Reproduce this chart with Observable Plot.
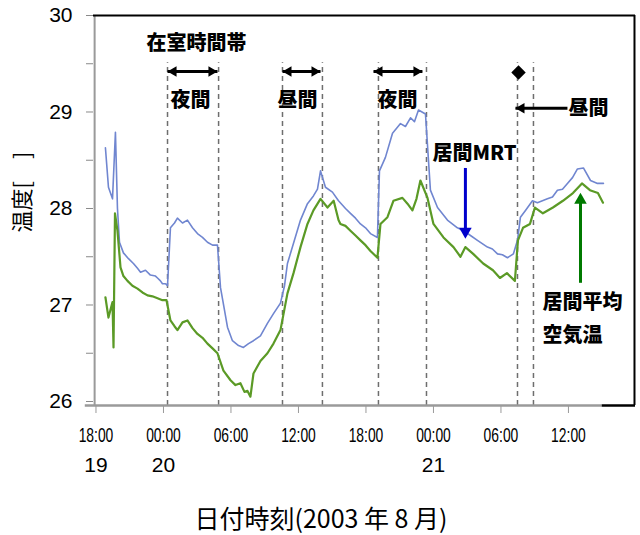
<!DOCTYPE html>
<html><head><meta charset="utf-8">
<script src="https://cdn.jsdelivr.net/npm/d3@7"></script>
<script src="https://cdn.jsdelivr.net/npm/@observablehq/plot@0.6"></script>
<style>body{margin:0;background:#fff}#chart{width:640px;height:535px}</style>
</head><body><div id="chart"></div>
<script>
// hours since 2003-08-19 18:00
const blueHours = [0.84,1.11,1.47,1.73,1.91,2.09,2.44,2.89,3.33,3.69,3.96,4.4,4.84,5.29,5.47,5.73,5.91,6.18,6.36,6.62,6.98,7.24,7.69,8.13,8.58,9.02,9.47,9.91,10.36,10.8,11.07,11.42,11.69,12.13,12.67,13.11,13.56,14.0,14.62,15.24,15.78,16.4,16.76,17.02,17.56,18.18,18.8,19.33,19.69,19.96,20.4,21.02,21.56,22.18,22.62,23.07,23.51,23.96,24.4,25.02,25.2,25.73,26.36,27.07,27.51,27.96,28.31,28.67,29.29,29.73,30.36,31.24,32.13,32.67,33.29,33.91,34.8,35.24,35.69,36.13,36.58,37.11,37.47,37.73,38.18,38.8,39.24,40.13,40.58,41.02,41.47,41.91,42.36,42.8,43.33,43.96,44.58,45.11];
const blueTemps = [28.63,28.22,28.10,28.79,28.00,27.65,27.54,27.48,27.43,27.38,27.34,27.36,27.31,27.30,27.28,27.25,27.22,27.22,27.20,27.80,27.85,27.90,27.85,27.88,27.80,27.74,27.70,27.65,27.62,27.62,27.18,26.95,26.77,26.63,26.58,26.56,26.60,26.63,26.68,26.81,26.91,27.02,27.20,27.43,27.64,27.88,28.05,28.13,28.20,28.39,28.22,28.17,28.08,28.00,27.95,27.90,27.84,27.80,27.74,27.70,28.39,28.53,28.78,28.88,28.85,28.94,28.90,29.02,28.98,28.19,28.01,27.88,27.80,27.77,27.72,27.67,27.60,27.58,27.53,27.52,27.49,27.53,27.67,27.91,27.98,28.08,28.06,28.10,28.12,28.19,28.20,28.26,28.32,28.41,28.42,28.29,28.26,28.26];
const greenHours = [0.84,1.11,1.29,1.47,1.56,1.69,1.91,2.18,2.44,2.8,3.24,3.69,4.13,4.58,5.02,5.47,5.91,6.27,6.62,6.98,7.24,7.69,8.13,8.58,9.02,9.47,9.91,10.36,10.8,11.33,11.96,12.4,12.84,13.2,13.47,13.73,14.0,14.62,15.24,15.78,16.4,17.02,17.56,18.18,18.8,19.33,19.96,20.58,21.13,21.56,21.73,22.18,22.62,23.07,23.51,23.96,24.4,25.02,25.29,25.91,26.44,27.24,27.69,28.13,28.49,28.84,29.47,30.0,30.89,31.78,32.4,32.84,33.53,34.42,35.29,35.91,36.53,37.24,37.51,37.96,38.58,39.02,39.73,40.62,41.51,42.4,43.2,43.91,44.62,45.07];
const greenTemps = [27.08,26.87,26.95,27.03,26.56,27.95,27.77,27.39,27.30,27.25,27.20,27.17,27.13,27.10,27.09,27.07,27.05,27.05,26.84,26.78,26.74,26.82,26.84,26.76,26.70,26.66,26.60,26.55,26.50,26.32,26.22,26.17,26.19,26.10,26.11,26.05,26.29,26.42,26.50,26.60,26.74,27.12,27.33,27.60,27.84,27.98,28.10,28.01,28.08,27.88,27.84,27.82,27.77,27.72,27.67,27.62,27.56,27.49,27.84,27.91,28.08,28.11,28.05,27.98,28.10,28.29,28.11,27.84,27.70,27.60,27.50,27.60,27.53,27.43,27.36,27.28,27.33,27.25,27.67,27.80,27.84,28.01,27.95,28.01,28.08,28.16,28.26,28.19,28.16,28.06];
const dashHours = [6.36,10.9,16.58,20.13,25.11,29.38,37.47,38.89];
const tickHours = [0,6,12,18,24,30,36,42];
const tickLabels = ["18:00","00:00","06:00","12:00","18:00","00:00","06:00","12:00"];
const dateHours = [0,6,30];
const dateLabels = ["19","20","21"];
const yTicks = [26,27,28,29,30];
const yMinor = [26.5,27.5,28.5,29.5];
const notesMiddle = [
  {h:8.93, t:29.71, s:"在室時間帯"},
  {h:8.4, t:29.12, s:"夜間"},
  {h:17.91, t:29.12, s:"昼間"},
  {h:26.8, t:29.12, s:"夜間"}
];
const notesStart = [
  {h:42.0, t:29.04, s:"昼間"},
  {h:29.91, t:28.57, s:"居間MRT"},
  {h:39.69, t:27.02, s:"居間平均"},
  {h:39.69, t:26.68, s:"空気温"}
];
const spans = [{a:6.36,b:10.8},{a:16.58,b:19.96},{a:24.67,b:29.02}];

const blue = blueHours.map((h,i)=>({h, t:blueTemps[i]}));
const green = greenHours.map((h,i)=>({h, t:greenTemps[i]}));
const yMin = 25.9585, yMax = 30, xMin = -0.22, xMax = 47.96;
const spanY = 29.42, leftArrowY = 29.04;
const cjk = "'Noto Sans CJK JP', sans-serif";

const chart = Plot.plot({
  width: 640, height: 535,
  marginLeft: 93, marginRight: 5, marginTop: 15, marginBottom: 130,
  x: {domain: [xMin, xMax], axis: null},
  y: {domain: [yMin, yMax], axis: null},
  style: {background: "white", fontFamily: "'Liberation Sans', Arial, sans-serif", color: "black"},
  marks: [
    Plot.ruleX(dashHours, {y1: yMin, y2: 29.51, stroke: "#6e6e6e", strokeWidth: 1.5, strokeDasharray: "5,4"}),
    Plot.line(blue, {x: "h", y: "t", stroke: "#7086d0", strokeWidth: 1.6}),
    Plot.line(green, {x: "h", y: "t", stroke: "#5b9a26", strokeWidth: 2.2}),
    // axes lines
    Plot.ruleY([yMin], {x1: -0.95, x2: 45.0, stroke: "#9a9a9a", strokeWidth: 2.5}),
    Plot.ruleX([-0.12], {y1: yMin, y2: yMax, stroke: "#9a9a9a", strokeWidth: 2}),
    // black frame
    Plot.ruleY([yMax], {x1: xMin, x2: xMax, stroke: "black", strokeWidth: 2}),
    Plot.ruleX([47.87], {y1: yMin, y2: yMax, stroke: "black", strokeWidth: 2}),
    Plot.ruleY([yMin], {x1: 45.0, x2: xMax, stroke: "black", strokeWidth: 2.5}),
    // y axis
    Plot.axisY({ticks: yTicks, tickSize: 7, tickPadding: 14, stroke: "#8a8a8a", fill: "black", fontSize: 21, tickFormat: d => String(d), label: null}),
    Plot.axisY({ticks: yMinor, tickSize: 7, stroke: "#8a8a8a", tickFormat: () => "", label: null}),
    // x axis
    Plot.axisX({ticks: tickHours, tickSize: 8, tickPadding: 14, stroke: "#9a9a9a", fill: "black", fontSize: 21, tickFormat: (d) => tickLabels[tickHours.indexOf(d)], label: null}),
    Plot.text(dateLabels, {x: (d,i) => dateHours[i], y: yMin, text: d => d, dy: 60, fontSize: 21}),
    Plot.text(["日付時刻(2003 年 8 月)"], {x: 20.0, y: yMin, dy: 114, fontSize: 25, fontFamily: cjk}),
    Plot.text(["温度[　]"], {frameAnchor: "left", y: 28.17, dx: -71, rotate: -90, textAnchor: "middle", fontSize: 22, fontFamily: cjk}),
    // annotations
    Plot.text(notesMiddle, {x: "h", y: "t", text: "s", textAnchor: "middle", fontSize: 20, fontWeight: 900, fontFamily: cjk}),
    Plot.text(notesStart, {x: "h", y: "t", text: "s", textAnchor: "start", fontSize: 20, fontWeight: 900, fontFamily: cjk}),
    Plot.link(spans, {x1: "a", x2: "b", y1: spanY, y2: spanY, stroke: "black", strokeWidth: 3}),
    Plot.dot(spans, {x: "a", y: spanY, symbol: "triangle2", r: 5, fill: "black", rotate: -90, dx: 6}),
    Plot.dot(spans, {x: "b", y: spanY, symbol: "triangle2", r: 5, fill: "black", rotate: 90, dx: -6}),
    Plot.dot([37.56], {x: d => d, y: 29.41, symbol: "diamond2", r: 6.5, fill: "black"}),
    Plot.link([{a: 41.91, b: 37.29}], {x1: "a", x2: "b", y1: leftArrowY, y2: leftArrowY, stroke: "black", strokeWidth: 3}),
    Plot.dot([37.29], {x: d => d, y: leftArrowY, symbol: "triangle2", r: 5, fill: "black", rotate: -90, dx: 6}),
    Plot.link([32.84], {x1: d => d, x2: d => d, y1: 28.42, y2: 27.74, stroke: "#0000cc", strokeWidth: 3}),
    Plot.dot([32.84], {x: d => d, y: 27.69, symbol: "triangle2", r: 6, fill: "#0000cc", rotate: 180, dy: -7}),
    Plot.link([43.07], {x1: d => d, x2: d => d, y1: 27.23, y2: 28.10, stroke: "#007a00", strokeWidth: 3}),
    Plot.dot([43.07], {x: d => d, y: 28.16, symbol: "triangle2", r: 6, fill: "#007a00", dy: 7})
  ]
});
document.getElementById("chart").appendChild(chart);
// condense x tick labels
d3.select(chart).selectAll('g[aria-label="x-axis tick label"] text').each(function(){
  const el = d3.select(this);
  const tr = el.attr("transform") || "";
  el.attr("transform", tr + " scale(0.66,1)");
});
</script></body></html>
